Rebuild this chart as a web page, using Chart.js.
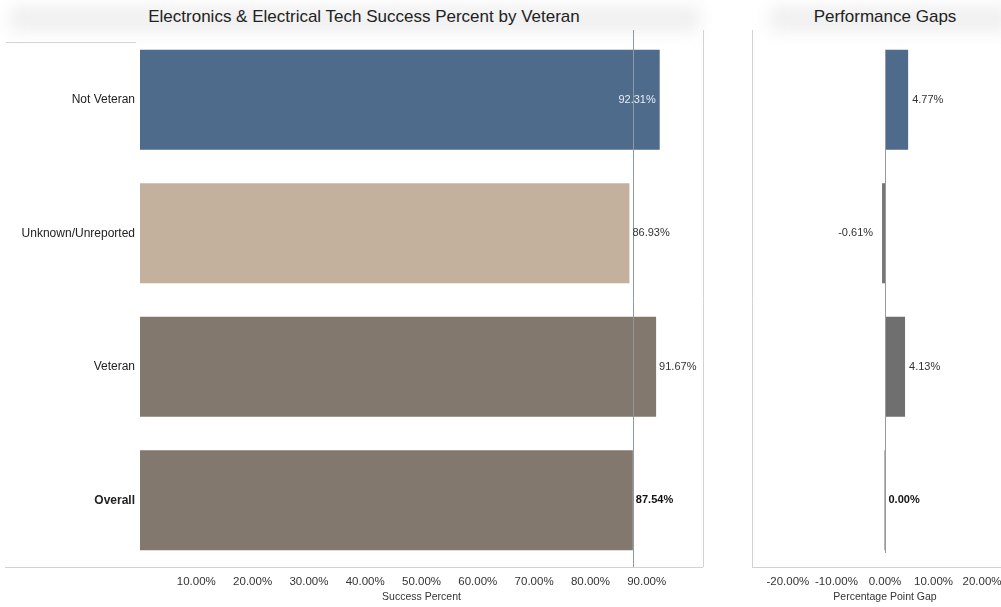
<!DOCTYPE html>
<html>
<head>
<meta charset="utf-8">
<script src="https://cdn.jsdelivr.net/npm/chart.js@4/dist/chart.umd.min.js"></script>
<style>
  html, body { margin: 0; padding: 0; background: #fff; overflow: hidden; width: 1001px; height: 607px; }
  body { position: relative; font-family: "Liberation Sans", Arial, sans-serif; }
  .haze { position: absolute; background: #e6e6e6; filter: blur(8px); opacity: 0.6; }
  .title { position: absolute; top: 7px; font-size: 17px; color: #222; white-space: nowrap; transform: translateX(-50%); }
  #leftWrap { position: absolute; left: 0; top: 0; width: 710px; height: 607px; }
  #rightWrap { position: absolute; left: 720px; top: 0; width: 300px; height: 607px; }
</style>
</head>
<body>
<div class="haze" style="left:10px; top:6px; width:690px; height:26px;"></div>
<div class="haze" style="left:770px; top:6px; width:240px; height:26px;"></div>
<div style="position:absolute; left:6px; top:42px; width:130px; height:1px; background:#d4d4d4;"></div>
<div class="title" style="left:364px;">Electronics &amp; Electrical Tech Success Percent by Veteran</div>
<div class="title" style="left:885px;">Performance Gaps</div>
<div id="leftWrap"><canvas id="successChart"></canvas></div>
<div id="rightWrap"><canvas id="gapChart"></canvas></div>
<script>
// Categories and values
const categories = ['Not Veteran', 'Unknown/Unreported', 'Veteran', 'Overall'];
const successPercent = [92.31, 86.93, 91.67, 87.54];
const gapPoints = [4.77, -0.61, 4.13, 0.00];
const successTicks = [10, 20, 30, 40, 50, 60, 70, 80, 90];
const gapTicks = [-20, -10, 0, 10, 20];

const successColors = ['#4e6b8b', '#c4b19d', '#83786d', '#83786d'];
const gapColors = ['#4e6b8b', '#777777', '#6f6f6f', '#6f6f6f'];

const FONT = '"Liberation Sans", Arial, sans-serif';
const fmt = v => v.toFixed(2) + '%';
const overallIndex = categories.indexOf('Overall');

// Frame lines: bottom axis rule and panel borders
const framePlugin = {
  id: 'frame',
  beforeDatasetsDraw(chart, args, opts) {
    const { ctx, chartArea } = chart;
    ctx.save();
    ctx.strokeStyle = '#d2d2d2';
    ctx.lineWidth = 1;
    ctx.beginPath();
    ctx.moveTo(opts.ruleLeft, chartArea.bottom + 0.5);
    ctx.lineTo(chartArea.right, chartArea.bottom + 0.5);
    if (opts.leftBorder) {
      ctx.moveTo(chartArea.left + 0.5, 30);
      ctx.lineTo(chartArea.left + 0.5, chartArea.bottom);
    }
    if (opts.rightBorder) {
      ctx.moveTo(chartArea.right + 0.5, 30);
      ctx.lineTo(chartArea.right + 0.5, chartArea.bottom);
    }
    ctx.stroke();
    ctx.restore();
  }
};

// Vertical reference line at a data value
const refLinePlugin = {
  id: 'refLine',
  afterDatasetsDraw(chart, args, opts) {
    if (opts.value === undefined) return;
    const { ctx, chartArea, scales } = chart;
    const x = Math.round(scales.x.getPixelForValue(opts.value)) + 0.5;
    ctx.save();
    ctx.strokeStyle = opts.color;
    ctx.lineWidth = 1;
    ctx.beginPath();
    ctx.moveTo(x, opts.top);
    ctx.lineTo(x, opts.bottom !== undefined ? opts.bottom : chartArea.bottom);
    ctx.stroke();
    ctx.restore();
  }
};

// Value labels next to (or inside) each bar
const valueLabelPlugin = {
  id: 'valueLabels',
  afterDatasetsDraw(chart, args, opts) {
    const { ctx } = chart;
    const meta = chart.getDatasetMeta(0);
    const data = chart.data.datasets[0].data;
    ctx.save();
    ctx.textBaseline = 'middle';
    meta.data.forEach((bar, i) => {
      const v = data[i];
      const bold = i === overallIndex;
      ctx.font = (bold ? 'bold ' : '') + '11px ' + FONT;
      const inside = opts.insideIndex === i;
      if (inside) {
        ctx.fillStyle = '#e8eef5';
        ctx.textAlign = 'right';
        ctx.fillText(fmt(v), bar.x - 4, bar.y);
      } else if (v < 0) {
        ctx.fillStyle = '#333';
        ctx.textAlign = 'right';
        ctx.fillText(fmt(v), bar.x - 9, bar.y);
      } else {
        ctx.fillStyle = bold ? '#111' : '#333';
        ctx.textAlign = 'left';
        ctx.fillText(fmt(v), bar.x + (opts.gap || 3), bar.y);
      }
    });
    ctx.restore();
  }
};

Chart.register(framePlugin, refLinePlugin, valueLabelPlugin);

const tickFont = { family: FONT, size: 11.5 };

new Chart(document.getElementById('successChart'), {
  type: 'bar',
  data: {
    labels: categories,
    datasets: [{
      data: successPercent,
      backgroundColor: successColors,
      barPercentage: 0.75,
      categoryPercentage: 1.0
    }]
  },
  options: {
    indexAxis: 'y',
    responsive: true,
    maintainAspectRatio: false,
    animation: false,
    events: [],
    layout: { padding: { top: 33, right: 7, left: 0, bottom: 0 } },
    plugins: {
      legend: { display: false },
      tooltip: { enabled: false },
      frame: { ruleLeft: 5, rightBorder: true },
      refLine: { value: successPercent[overallIndex], color: '#8e9aa3', top: 30 },
      valueLabels: { insideIndex: 0, gap: 3 }
    },
    scales: {
      x: {
        min: 0, max: 100,
        afterBuildTicks: s => { s.ticks = successTicks.map(v => ({ value: v })); },
        afterFit: s => { s.height = 40; },
        grid: { display: false, drawTicks: false },
        border: { display: false },
        ticks: {
          padding: 8,
          color: '#333',
          font: tickFont,
          maxRotation: 0,
          autoSkip: false,
          callback: v => v.toFixed(2) + '%'
        },
        title: { display: true, text: 'Success Percent', color: '#333', font: { family: FONT, size: 10.5 }, padding: { top: 0 } }
      },
      y: {
        afterFit: s => { s.width = 140; },
        grid: { display: false, drawTicks: false },
        border: { display: false },
        ticks: {
          padding: 5,
          color: '#222',
          font: ctx => ({ family: FONT, size: 12, weight: ctx.index === overallIndex ? 'bold' : 'normal' })
        }
      }
    }
  }
});

new Chart(document.getElementById('gapChart'), {
  type: 'bar',
  data: {
    labels: categories,
    datasets: [{
      data: gapPoints,
      backgroundColor: gapColors,
      barPercentage: 0.75,
      categoryPercentage: 1.0,
      minBarLength: 1
    }]
  },
  options: {
    indexAxis: 'y',
    responsive: true,
    maintainAspectRatio: false,
    animation: false,
    events: [],
    layout: { padding: { top: 33, right: 2, left: 32, bottom: 0 } },
    plugins: {
      legend: { display: false },
      tooltip: { enabled: false },
      frame: { ruleLeft: 32, leftBorder: true },
      refLine: { value: 0, color: '#9a9a9a', top: 50, bottom: 553 },
      valueLabels: { gap: 4 }
    },
    scales: {
      x: {
        min: -27.4, max: 27.4,
        afterBuildTicks: s => { s.ticks = gapTicks.map(v => ({ value: v })); },
        afterFit: s => { s.height = 40; },
        grid: { display: false, drawTicks: false },
        border: { display: false },
        ticks: {
          padding: 8,
          color: '#333',
          font: tickFont,
          maxRotation: 0,
          autoSkip: false,
          callback: v => v.toFixed(2) + '%'
        },
        title: { display: true, text: 'Percentage Point Gap', color: '#333', font: { family: FONT, size: 10.5 }, padding: { top: 0 } }
      },
      y: {
        display: false
      }
    }
  }
});
</script>
</body>
</html>
